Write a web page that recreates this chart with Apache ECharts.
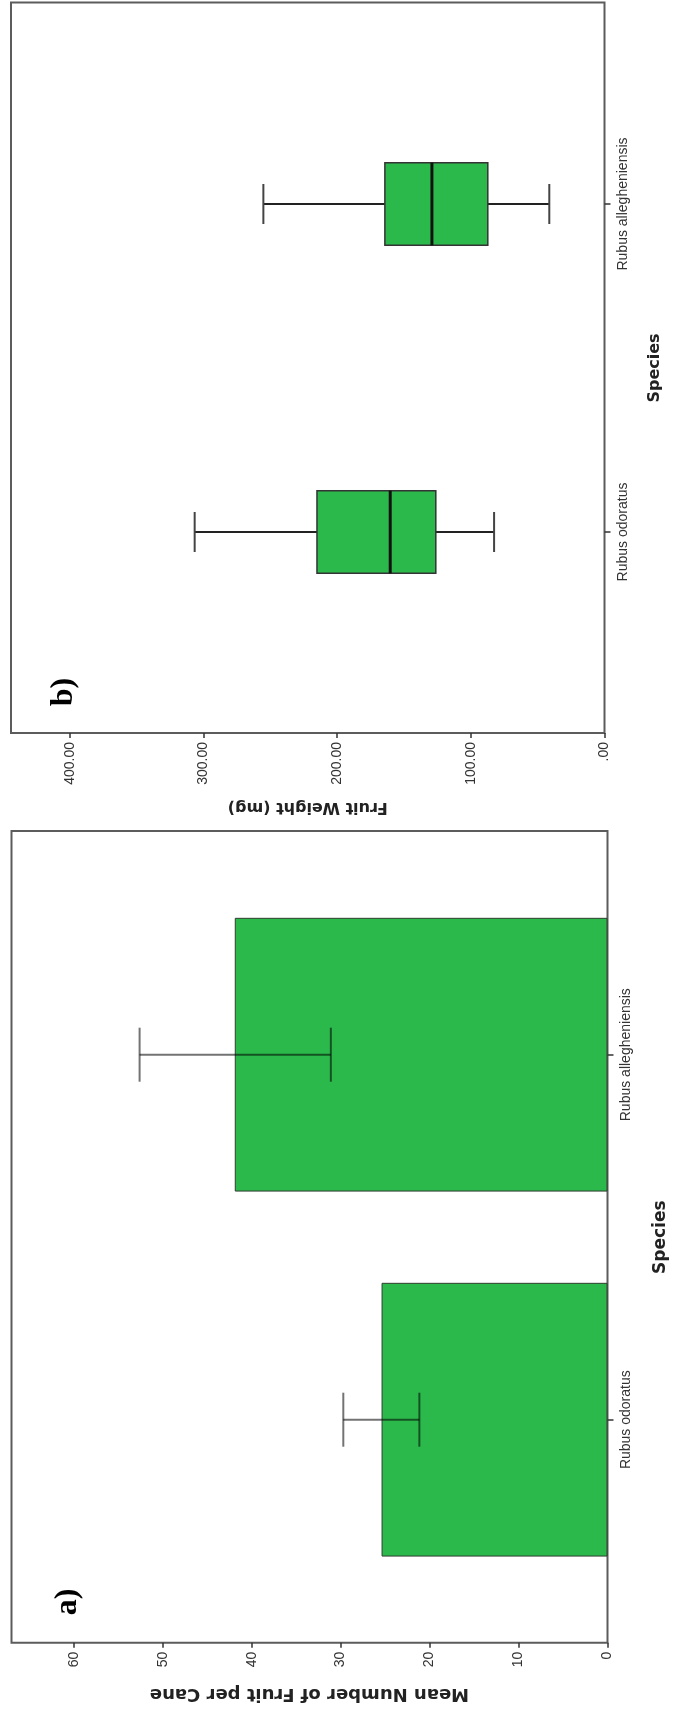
<!DOCTYPE html>
<html><head><meta charset="utf-8">
<script src="https://cdn.jsdelivr.net/npm/echarts@6/dist/echarts.min.js"></script>
<style>html,body{margin:0;padding:0;background:#fff}#c{width:673px;height:1713px}</style>
</head><body><div id="c"></div>
<script>
// ---------- data ----------
const species = ['Rubus odoratus', 'Rubus allegheniensis'];
// panel a: mean number of fruit per cane with error bars
const meanFruit = [25.4, 41.9];
const errLow = [21.15, 31.1];
const errHigh = [29.7, 52.6];
const aTicks = [0, 10, 20, 30, 40, 50, 60];
const aTickLabels = ['0', '10', '20', '30', '40', '50', '60'];
// panel b: fruit weight box plots
const wMin = [82.6, 41.3];
const wQ1 = [126.2, 87.3];
const wMed = [160.3, 129.1];
const wQ3 = [215.1, 164.3];
const wMax = [306.6, 255.2];
const bTicks = [0, 100, 200, 300, 400];
const bTickLabels = ['.00', '100.00', '200.00', '300.00', '400.00'];

// ---------- styles ----------
const tickFont = "'Liberation Sans Narrow','Liberation Sans',Arial,sans-serif";
const titleFont = "'DejaVu Sans',Verdana,sans-serif";
const green = '#2cb94c';

function frameValueAxis(grid, max, ticks, labels, name, nameGap, nameSize) {
  return {
    type: 'value', gridIndex: grid, inverse: true, min: 0, max: max,
    axisLine: { show: false, onZero: false }, splitLine: { show: false },
    axisTick: { show: true, length: 5, customValues: ticks, lineStyle: { color: '#333', width: 1.5 } },
    axisLabel: { customValues: ticks, rotate: 90, margin: 9, color: '#333', fontSize: 14, fontFamily: tickFont,
      formatter: v => labels[ticks.indexOf(v)] },
    name: name, nameLocation: 'middle', nameRotate: 180, nameGap: nameGap,
    nameTextStyle: { fontFamily: titleFont, fontWeight: 'bold', fontSize: nameSize, color: '#222' }
  };
}
function hiddenValueAxis(grid, max) {
  return { type: 'value', gridIndex: grid, inverse: true, min: 0, max: max, show: false };
}
function hiddenY(grid) {
  return { type: 'value', gridIndex: grid, min: 0, max: 1, show: false };
}
function catAxis(grid, nameGap, nameSize) {
  return {
    type: 'category', gridIndex: grid, data: species, position: 'right',
    axisLine: { show: false, onZero: false },
    axisTick: { show: true, alignWithLabel: true, length: 6, lineStyle: { color: '#333', width: 1.5 } },
    axisLabel: { rotate: 90, margin: 12, fontSize: 14, fontFamily: tickFont, color: '#333' },
    splitLine: { show: false },
    name: 'Species', nameLocation: 'middle', nameRotate: 90, nameGap: nameGap,
    nameTextStyle: { fontFamily: titleFont, fontWeight: 'bold', fontSize: nameSize, color: '#222' }
  };
}

function renderBox(params, api) {
  const c = api.value(0);
  const pMin = api.coord([api.value(1), c]);
  const pQ1 = api.coord([api.value(2), c]);
  const pMed = api.coord([api.value(3), c]);
  const pQ3 = api.coord([api.value(4), c]);
  const pMax = api.coord([api.value(5), c]);
  const band = api.size([0, 1])[1];
  const bh = band * 0.252, ch = band * 0.122;
  const y = pMed[1];
  const ws = { stroke: '#222', lineWidth: 2 };
  return { type: 'group', children: [
    { type: 'line', shape: { x1: pMax[0], y1: y, x2: pQ3[0], y2: y }, style: ws },
    { type: 'line', shape: { x1: pQ1[0], y1: y, x2: pMin[0], y2: y }, style: ws },
    { type: 'line', shape: { x1: pMax[0], y1: y - ch / 2, x2: pMax[0], y2: y + ch / 2 }, style: { stroke: '#444', lineWidth: 2 } },
    { type: 'line', shape: { x1: pMin[0], y1: y - ch / 2, x2: pMin[0], y2: y + ch / 2 }, style: { stroke: '#444', lineWidth: 2 } },
    { type: 'rect', shape: { x: pQ3[0], y: y - bh / 2, width: pQ1[0] - pQ3[0], height: bh }, style: { fill: green, stroke: '#333', lineWidth: 1.5 } },
    { type: 'line', shape: { x1: pMed[0], y1: y - bh / 2, x2: pMed[0], y2: y + bh / 2 }, style: { stroke: '#111', lineWidth: 3 } }
  ] };
}
function renderErr(params, api) {
  const c = api.value(0);
  const pLo = api.coord([api.value(1), c]);
  const pHi = api.coord([api.value(2), c]);
  const band = api.size([0, 1])[1];
  const ch = band * 0.148;
  const y = pLo[1];
  const s = { stroke: 'rgba(0,0,0,0.55)', lineWidth: 2 };
  return { type: 'group', children: [
    { type: 'line', shape: { x1: pLo[0], y1: y, x2: pHi[0], y2: y }, style: s },
    { type: 'line', shape: { x1: pLo[0], y1: y - ch / 2, x2: pLo[0], y2: y + ch / 2 }, style: s },
    { type: 'line', shape: { x1: pHi[0], y1: y - ch / 2, x2: pHi[0], y2: y + ch / 2 }, style: s }
  ] };
}

const frameStyle = { show: true, borderColor: '#5c5c5c', borderWidth: 2, backgroundColor: 'transparent', outerBoundsMode: 'none', containLabel: false };
const innerStyle = { show: false, outerBoundsMode: 'none', containLabel: false };

const option = {
  animation: false,
  backgroundColor: '#fff',
  grid: [
    Object.assign({ left: 11, top: 2.5, width: 593.5, height: 730.5 }, frameStyle),
    Object.assign({ left: 11, top: 40, width: 593.5, height: 656 }, innerStyle),
    Object.assign({ left: 11.5, top: 831, width: 596, height: 811.7 }, frameStyle),
    Object.assign({ left: 11.5, top: 872.2, width: 596, height: 730 }, innerStyle)
  ],
  xAxis: [
    frameValueAxis(0, 444, bTicks, bTickLabels, 'Fruit Weight (mg)', 66, 16),
    hiddenValueAxis(1, 444),
    frameValueAxis(2, 67, aTicks, aTickLabels, 'Mean Number of Fruit per Cane', 42, 18),
    hiddenValueAxis(3, 67)
  ],
  yAxis: [hiddenY(0), catAxis(1, 42, 16), hiddenY(2), catAxis(3, 45, 17)],
  series: [
    {
      type: 'custom', xAxisIndex: 1, yAxisIndex: 1, renderItem: renderBox,
      encode: { x: [1, 2, 3, 4, 5], y: 0 },
      data: species.map((s, i) => [i, wMin[i], wQ1[i], wMed[i], wQ3[i], wMax[i]]), z: 3
    },
    {
      type: 'bar', xAxisIndex: 3, yAxisIndex: 3, data: meanFruit, barWidth: '75%',
      itemStyle: { color: green, borderColor: '#2f3f2f', borderWidth: 1 }, z: 2
    },
    {
      type: 'custom', xAxisIndex: 3, yAxisIndex: 3, renderItem: renderErr,
      encode: { x: [1, 2], y: 0 },
      data: species.map((s, i) => [i, errLow[i], errHigh[i]]), z: 5
    }
  ],
  graphic: [
    { type: 'text', x: 64, y: 692, rotation: Math.PI / 2,
      style: { text: 'b)', font: "bold 32px 'Liberation Serif','Times New Roman',serif", fill: '#000', align: 'center', verticalAlign: 'middle' } },
    { type: 'text', x: 68, y: 1602, rotation: Math.PI / 2,
      style: { text: 'a)', font: "bold 32px 'Liberation Serif','Times New Roman',serif", fill: '#000', align: 'center', verticalAlign: 'middle' } }
  ]
};
const chart = echarts.init(document.getElementById('c'));
chart.setOption(option);
</script>
</body></html>
